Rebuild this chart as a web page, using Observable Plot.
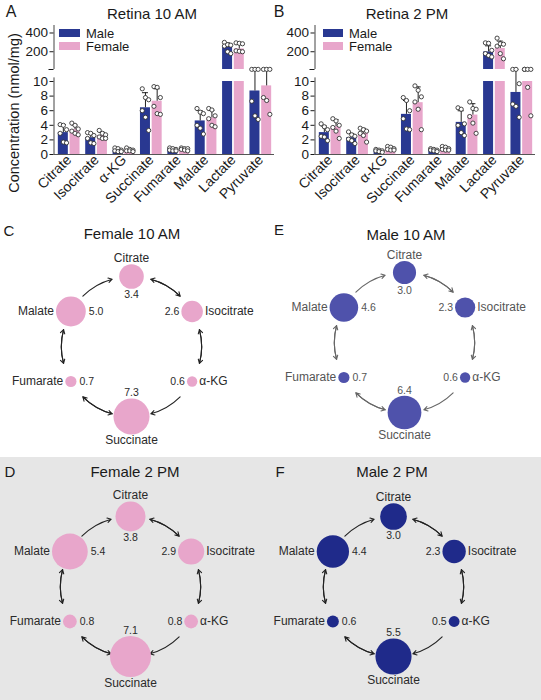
<!DOCTYPE html>
<html><head><meta charset="utf-8">
<script src="https://cdn.jsdelivr.net/npm/d3@7"></script>
<script src="https://cdn.jsdelivr.net/npm/@observablehq/plot@0.6"></script>
<style>
body{margin:0;background:#fff;font-family:"Liberation Sans",Arial,sans-serif;}
#fig{position:relative;width:541px;height:700px;overflow:hidden;background:#fff;}
.box{position:absolute;}
.t{position:absolute;transform:translate(-50%,-50%);white-space:nowrap;color:#1a1a1a;line-height:1;}
.tl{position:absolute;transform:translate(0,-50%);white-space:nowrap;color:#1a1a1a;line-height:1;}
svg{overflow:visible}
</style></head><body><div id="fig"></div>
<script>
// ---------------- data ----------------
const categories = ["Citrate","Isocitrate","α-KG","Succinate","Fumarate","Malate","Lactate","Pyruvate"];
// group means (nmol/mg)
const male10   = [3.0, 2.3, 0.6, 6.4, 0.7, 4.6, 248, 8.7];
const female10 = [3.4, 2.6, 0.6, 7.3, 0.7, 5.0, 230, 9.4];
const male2    = [3.0, 2.3, 0.5, 5.5, 0.6, 4.4, 198, 8.5];
const female2  = [3.8, 2.9, 0.8, 7.1, 0.8, 5.4, 234, 10.4];
// individual retinas
const male10Pts = [
  [4.1,4.0,3.4,2.9,1.7,1.6],[3.0,2.9,2.6,2.2,1.6,1.5],[0.9,0.8,0.6,0.5,0.4,0.4],
  [9.0,7.8,7.5,6.0,5.1,3.3],[0.9,0.8,0.7,0.6,0.5,0.5],[6.3,5.8,5.6,4.0,3.6,2.8],
  [300,275,270,260,200,180],[12,12,12,7.3,5.3,4.8]];
const female10Pts = [
  [4.3,4.0,3.5,3.2,2.9,2.7],[3.3,2.9,2.7,2.4,2.2,2.2],[0.9,0.7,0.6,0.5,0.5,0.4],
  [9.3,9.2,7.8,6.6,5.6,5.5],[0.9,0.8,0.8,0.7,0.6,0.5],[6.3,6.1,5.3,4.9,4.0,3.8],
  [295,290,285,210,205,200],[12,12,12,7.8,7.4,5.5]];
const male2Pts = [
  [4.2,3.8,3.4,2.5,2.4,1.9],[3.1,2.7,2.5,2.1,1.9,1.5],[0.7,0.6,0.5,0.5,0.4,0.3],
  [7.8,7.4,6.0,4.9,3.5,3.4],[0.8,0.7,0.6,0.6,0.5,0.4],[6.4,6.2,4.2,4.0,3.0,2.6],
  [295,290,215,180,160,145],[12,12,9.7,6.9,6.6,5.1]];
const female2Pts = [
  [4.9,4.6,4.0,3.7,3.2,2.2],[3.6,3.4,3.2,2.9,2.6,1.7],[1.1,1.0,0.8,0.7,0.6,0.6],
  [9.4,8.8,7.9,7.2,6.2,3.4],[1.1,1.0,0.8,0.7,0.6,0.6],[7.2,6.3,6.2,5.2,4.3,2.9],
  [345,285,280,260,180,125],[12,12,12,12,9.2,5.3]];
const yTicks = [0, 2, 4, 6, 8, 10, 200, 400];
const sexes = ["Male", "Female"];
// TCA cycle (first six metabolites), drawn clockwise from the top
const cycleNodes = ["Citrate","Isocitrate","α-KG","Succinate","Fumarate","Malate"];
const cycleEdges = [
  {from:"Citrate", to:"Isocitrate", both:true},
  {from:"Isocitrate", to:"α-KG", both:true},
  {from:"α-KG", to:"Succinate", both:false},
  {from:"Succinate", to:"Fumarate", both:true},
  {from:"Fumarate", to:"Malate", both:true},
  {from:"Malate", to:"Citrate", both:false}];
const labelSide = ["top","right","right","bottom","left","left"];

// ---------------- style ----------------
const MALE = "#293891", FEMALE = "#e8a6cb";
const FONT = "Liberation Sans, Arial, sans-serif";
const fig = document.getElementById("fig");

function put(node, left, top){
  const d = document.createElement("div");
  d.className = "box"; d.style.left = left + "px"; d.style.top = top + "px";
  d.appendChild(node); fig.appendChild(d); return d;
}
function txt(s, x, y, size, cls = "t", color){
  const d = document.createElement("div");
  d.className = cls; d.style.left = x + "px"; d.style.top = y + "px";
  d.style.fontSize = size + "px"; d.textContent = s;
  if (color) d.style.color = color;
  fig.appendChild(d); return d;
}

// ---------------- bar panels ----------------
function barPanel({male, female, malePts, femalePts, left, width, axisAt, band}){
  const n = categories.length;
  const bw = (band[1] - band[0]) / n;
  const barW = 10, gap = 1.7;
  const cen = {Male: bw/2 - gap/2 - barW/2, Female: bw/2 + gap/2 + barW/2};
  const rows = [], pts = [];
  categories.forEach((c, i) => {
    rows.push({cat:c, sex:"Male", mean:male[i], sd:d3.deviation(malePts[i])});
    rows.push({cat:c, sex:"Female", mean:female[i], sd:d3.deviation(femalePts[i])});
    malePts[i].forEach((v, j) => pts.push({cat:c, sex:"Male", v, j}));
    femalePts[i].forEach((v, j) => pts.push({cat:c, sex:"Female", v, j}));
  });
  const marks = [];
  for (const s of sexes) {
    const fill = s === "Male" ? MALE : FEMALE;
    const R = rows.filter(d => d.sex === s);
    const inL = cen[s] - barW/2, inR = bw - (cen[s] + barW/2);
    marks.push(Plot.barY(R, {x:"cat", y1: d => 0, y2: d => Math.min(d.mean, 10), fill, insetLeft: inL, insetRight: inR}));
    marks.push(Plot.barY(R.filter(d => d.mean > 10.5), {x:"cat", y1: d => 10.5, y2: d => d.mean, fill, insetLeft: inL, insetRight: inR}));
  }
  for (const s of sexes) {
    const R = rows.filter(d => d.sex === s);
    marks.push(Plot.ruleX(R, {x:"cat", y1:"mean", y2: d => d.mean + d.sd, dx: cen[s] - bw/2, stroke:"#222", strokeWidth:1}));
    marks.push(Plot.tickY(R, {x:"cat", y: d => d.mean + d.sd, stroke:"#222", strokeWidth:1, insetLeft: cen[s] - 3, insetRight: bw - cen[s] - 3}));
  }
  for (const s of sexes) for (let k = 0; k < 3; k++) {
    marks.push(Plot.dot(pts.filter(d => d.sex === s && d.j % 3 === k), {
      x:"cat", y:"v", dx: cen[s] - bw/2 + (k - 1) * 3.2, r: 2.1,
      fill:"white", stroke:"#333", strokeWidth: 0.9}));
  }
  const chart = Plot.plot({
    width, height: 210,
    marginLeft: axisAt - left, marginRight: width - (band[1] - left),
    marginTop: 20, marginBottom: 210 - 154,
    style: {fontFamily: FONT, background: "transparent", overflow: "visible", color: "#1a1a1a"},
    x: {type:"band", domain: categories, range: [band[0] - left, band[1] - left], padding: 0, round: false},
    y: {type:"linear", domain: [0, 10, 10.5, 480], range: [154, 81, 69, 25]},
    marks: [
      ...marks,
      Plot.ruleY([0], {stroke:"#555", strokeWidth: 1}),
      Plot.ruleX([[0, 10.15], [10.5, 480]], {x: () => categories[0], y1: d => d[0], y2: d => d[1],
        dx: axisAt - (band[0] + bw/2), stroke:"#444", strokeWidth: 1}),
      Plot.axisY({ticks: yTicks, tickSize: 4, tickPadding: 2, fontSize: 13.5, label: null}),
      Plot.axisY({ticks: [10.5], tickSize: 5, tickFormat: () => "", label: null}),
      Plot.axisX({tickRotate: -45, tickSize: 0, tickPadding: 3, fontSize: 14, label: null})
    ]
  });
  put(chart, left, 0);
}

barPanel({male: male10, female: female10, malePts: male10Pts, femalePts: female10Pts,
  left: 0, width: 276, axisAt: 53.5, band: [55, 274]});
barPanel({male: male2, female: female2, malePts: male2Pts, femalePts: female2Pts,
  left: 270, width: 271, axisAt: 314.5, band: [316, 535]});

txt("A", 11, 12, 16); txt("Retina 10 AM", 152, 13, 15);
txt("B", 279, 12, 16); txt("Retina 2 PM", 407, 13, 15);
txt("Concentration (nmol/mg)", 14, 113, 14.5).style.transform = "translate(-50%,-50%) rotate(-90deg)";
function legend(x, tx){
  [["Male", MALE, 33], ["Female", FEMALE, 46]].forEach(([name, col, y]) => {
    const sw = document.createElement("div");
    sw.style.cssText = `position:absolute;left:${x}px;top:${y-4}px;width:${tx-x-6}px;height:8px;background:${col}`;
    fig.appendChild(sw);
    txt(name, tx, y, 13, "tl");
  });
}
legend(59, 86); legend(323, 349);

// ---------------- TCA cycle panels ----------------
const bg = document.createElement("div");
bg.style.cssText = "position:absolute;left:0;top:457px;width:541px;height:243px;background:#e6e6e6";
fig.appendChild(bg);

function cyclePanel({values, color, k, cx, cy, textColor, arrowColor}){
  const R = 70, delta = 16, fmt = d3.format(".1f");
  const ang = i => (-90 + 60 * i) * Math.PI / 180;
  const nodes = cycleNodes.map((name, i) => ({
    name, v: values[i], side: labelSide[i], r: k * Math.sqrt(values[i]),
    x: R * Math.cos(ang(i)), y: R * Math.sin(ang(i))}));
  const edges = cycleEdges.map(e => {
    const i = cycleNodes.indexOf(e.from);
    const a1 = ang(i) + delta * Math.PI / 180, a2 = ang(i + 1) - delta * Math.PI / 180;
    return {...e, x1: R*Math.cos(a1), y1: R*Math.sin(a1), x2: R*Math.cos(a2), y2: R*Math.sin(a2)};
  });
  const by = s => nodes.filter(d => d.side === s);
  const L = {fontSize: 12, fill: textColor}, V = {fontSize: 10.5, fill: textColor};
  const chart = Plot.plot({
    width: 270, height: 240, margin: 0,
    style: {fontFamily: FONT, background: "transparent", overflow: "visible"},
    x: {domain: [-135, 135], range: [0, 270], axis: null},
    y: {domain: [-117, 123], range: [0, 240], axis: null},
    r: {type: "sqrt", domain: [0, 1], range: [0, k]},
    marks: [
      Plot.arrow(edges, {x1:"x1", y1:"y1", x2:"x2", y2:"y2", bend: 15, headLength: 6, stroke: arrowColor, strokeWidth: 1.1}),
      Plot.arrow(edges.filter(e => e.both), {x1:"x2", y1:"y2", x2:"x1", y2:"y1", bend: -15, headLength: 6, stroke: arrowColor, strokeWidth: 1.1}),
      Plot.dot(nodes, {x:"x", y:"y", r:"v", fill: color}),
      Plot.text(by("top"), {x:"x", y: d => d.y - d.r - 2, text:"name", lineAnchor:"bottom", ...L}),
      Plot.text(by("top"), {x:"x", y: d => d.y + d.r + 2, text: d => fmt(d.v), lineAnchor:"top", ...V}),
      Plot.text(by("bottom"), {x:"x", y: d => d.y + d.r + 1, text:"name", lineAnchor:"top", ...L}),
      Plot.text(by("bottom"), {x:"x", y: d => d.y - d.r - 2, text: d => fmt(d.v), lineAnchor:"bottom", ...V}),
      Plot.text(by("right"), {x: d => d.x + d.r + 2, y:"y", text:"name", textAnchor:"start", ...L}),
      Plot.text(by("right"), {x: d => d.x - d.r - 2, y:"y", text: d => fmt(d.v), textAnchor:"end", ...V}),
      Plot.text(by("left"), {x: d => d.x - d.r - 2, y:"y", text:"name", textAnchor:"end", ...L}),
      Plot.text(by("left"), {x: d => d.x + d.r + 3, y:"y", text: d => fmt(d.v), textAnchor:"start", ...V})
    ]
  });
  put(chart, cx - 135, cy - 117);
}
const F6 = a => a.slice(0, 6);
cyclePanel({values: F6(female10), color: FEMALE, k: 6.67, cx: 131, cy: 346, textColor: "#2a2a2a", arrowColor: "#222"});
cyclePanel({values: F6(male10), color: "#4f52ab", k: 6.67, cx: 404, cy: 342, textColor: "#555", arrowColor: "#666"});
cyclePanel({values: F6(female2), color: FEMALE, k: 7.7, cx: 130, cy: 586, textColor: "#2a2a2a", arrowColor: "#222"});
cyclePanel({values: F6(male2), color: "#1f2a8a", k: 7.7, cx: 393, cy: 586, textColor: "#2a2a2a", arrowColor: "#222"});

txt("C", 9, 230, 15); txt("Female 10 AM", 132, 233, 15);
txt("E", 279, 229, 15); txt("Male 10 AM", 406, 234, 15);
txt("D", 10, 471, 15); txt("Female 2 PM", 135, 471, 15);
txt("F", 280, 471, 15); txt("Male 2 PM", 392, 471, 15);
</script></body></html>
